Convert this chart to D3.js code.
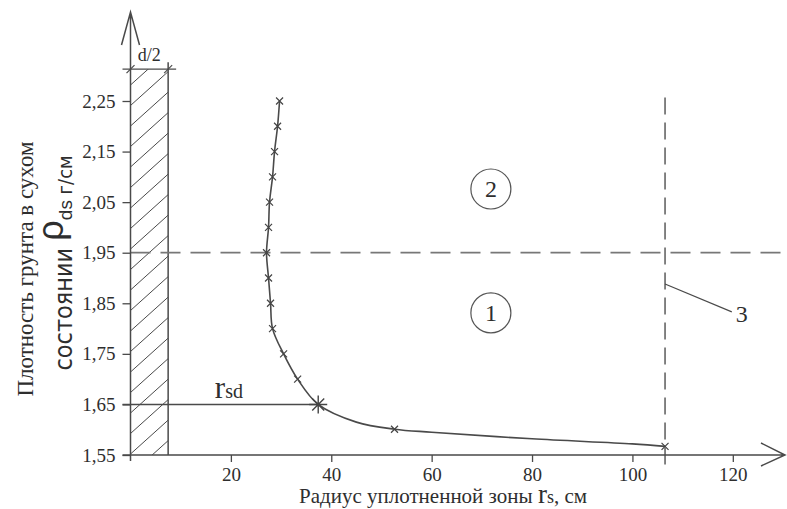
<!DOCTYPE html>
<html>
<head>
<meta charset="utf-8">
<script src="https://cdn.jsdelivr.net/npm/d3@7"></script>
<style>
  body { margin: 0; background: #fff; }
  svg { display: block; }
  .serif { font-family: "Liberation Serif", "Times New Roman", serif; fill: #2e2e2e; }
  .sans { font-family: "Liberation Sans Narrow", "DejaVu Sans Condensed", "Liberation Sans", sans-serif; fill: #2e2e2e; }
</style>
</head>
<body>
<div class="js-d3"></div>
<script>
// density / radius curve
const curveRadius = [29.7, 29.3, 28.7, 28.3, 27.7, 27.5, 27.1, 27.5, 27.9, 28.3, 30.5, 33.3, 37.4, 45, 52.6, 60, 80, 100, 106.5];
const curveDensity = [2.25, 2.2, 2.15, 2.1, 2.05, 2.0, 1.95, 1.9, 1.85, 1.8, 1.75, 1.7, 1.65, 1.615, 1.601, 1.595, 1.582, 1.572, 1.567];
// which points carry a small cross
const markerIdx = [0, 1, 2, 3, 4, 5, 6, 7, 8, 9, 10, 11, 14, 18];
const rsdIdx = 12;

const yTicks = [1.55, 1.65, 1.75, 1.85, 1.95, 2.05, 2.15, 2.25];
const xTicks = [20, 40, 60, 80, 100, 120];

const halfD = 7.5;          // d/2, cm
const densityLimit = 1.95;  // horizontal dashed line
const radiusLimit = 106.5;  // vertical dashed line

const zones = [
  { label: "2", r: 71.8, rho: 2.076 },
  { label: "1", r: 71.8, rho: 1.831 }
];

const width = 787;
const height = 509;

const x = d3.scaleLinear().domain([0, 130]).range([130.5, 783]);
const y = d3.scaleLinear().domain([1.55, 2.25]).range([455, 101]);

const svg = d3.select(".js-d3")
  .append("svg")
  .attr("width", width)
  .attr("height", height);

const lineColor = "#4a4a4a";
const dashColor = "#777";

// hatched strip 0..d/2
const hatchTop = y(2.313);
svg.append("clipPath").attr("id", "hclip")
  .append("rect")
  .attr("x", x(0)).attr("y", hatchTop)
  .attr("width", x(halfD) - x(0)).attr("height", y(1.55) - hatchTop);

const hatch = svg.append("g").attr("clip-path", "url(#hclip)");
const hw = x(halfD) - x(0);
for (let yy = y(1.55) + 40; yy > hatchTop - 10; yy -= 20.5) {
  hatch.append("line")
    .attr("x1", x(0)).attr("y1", yy)
    .attr("x2", x(0) + hw).attr("y2", yy - hw * 0.9)
    .attr("stroke", lineColor).attr("stroke-width", 1);
}
svg.append("line")
  .attr("x1", x(halfD)).attr("x2", x(halfD))
  .attr("y1", hatchTop - 7).attr("y2", y(1.55))
  .attr("stroke", lineColor).attr("stroke-width", 1.5);

// d/2 dimension
svg.append("line")
  .attr("x1", x(0) - 8).attr("x2", x(halfD) + 8)
  .attr("y1", hatchTop).attr("y2", hatchTop)
  .attr("stroke", lineColor).attr("stroke-width", 1.2);
[0, halfD].forEach((v) => {
  svg.append("line")
    .attr("x1", x(v) - 4).attr("y1", hatchTop + 4)
    .attr("x2", x(v) + 4).attr("y2", hatchTop - 4)
    .attr("stroke", lineColor).attr("stroke-width", 1.2);
});
svg.append("text").attr("class", "serif")
  .attr("x", (x(0) + x(halfD)) / 2).attr("y", hatchTop - 8)
  .attr("text-anchor", "middle").attr("font-size", 18)
  .text("d/2");

// dashed limit lines
svg.append("line")
  .attr("x1", x(0)).attr("x2", width)
  .attr("y1", y(densityLimit)).attr("y2", y(densityLimit))
  .attr("stroke", dashColor).attr("stroke-width", 1.8)
  .attr("stroke-dasharray", "20,10");
svg.append("line")
  .attr("x1", x(radiusLimit)).attr("x2", x(radiusLimit))
  .attr("y1", y(2.257)).attr("y2", y(1.55) + 12)
  .attr("stroke", dashColor).attr("stroke-width", 1.8)
  .attr("stroke-dasharray", "17,8");

// axes
const yAxis = d3.axisLeft(y).tickValues(yTicks).tickSize(8).tickPadding(7)
  .tickFormat((d) => d3.format(".2f")(d).replace(".", ","));
const gy = svg.append("g").attr("transform", `translate(${x(0)},0)`).call(yAxis);
const xAxis = d3.axisBottom(x).tickValues(xTicks).tickSize(7).tickPadding(6)
  .tickFormat(d3.format("d"));
const gx = svg.append("g").attr("transform", `translate(0,${y(1.55)})`).call(xAxis);
[gx, gy].forEach((g) => {
  g.attr("font-family", null);
  g.select(".domain").remove();
  g.selectAll(".tick line").attr("stroke", lineColor).attr("stroke-width", 1.3);
  g.selectAll(".tick text").attr("class", "serif").attr("font-size", 19)
    .attr("fill", "#2e2e2e");
});

// axis lines with open arrows
svg.append("path")
  .attr("d", `M${x(0)},${y(1.55) + 6}V12M${x(0) - 9},45L${x(0)},12L${x(0) + 9},45`)
  .attr("fill", "none").attr("stroke", lineColor).attr("stroke-width", 1.5);
svg.append("path")
  .attr("d", `M${x(0) - 8},${y(1.55)}H785M761,443L785,${y(1.55)}L761,466`)
  .attr("fill", "none").attr("stroke", lineColor).attr("stroke-width", 1.5);

// r_sd guide
svg.append("line")
  .attr("x1", x(0) - 8).attr("x2", x(curveRadius[rsdIdx]))
  .attr("y1", y(curveDensity[rsdIdx])).attr("y2", y(curveDensity[rsdIdx]))
  .attr("stroke", lineColor).attr("stroke-width", 1.5);
const rsd = svg.append("text").attr("class", "serif")
  .attr("x", x(16.8)).attr("y", y(1.663));
rsd.append("tspan").attr("font-size", 31).text("r");
rsd.append("tspan").attr("font-size", 20).text("sd");

// curve
const pts = curveRadius.map((r, i) => [r, curveDensity[i]]);
svg.append("path")
  .datum(pts)
  .attr("d", d3.line().x((d) => x(d[0])).y((d) => y(d[1])).curve(d3.curveCatmullRom.alpha(0.5)))
  .attr("fill", "none").attr("stroke", lineColor).attr("stroke-width", 1.6);

svg.selectAll(".mark")
  .data(markerIdx.map((i) => pts[i]))
  .enter()
  .append("path")
  .attr("class", "mark")
  .attr("transform", (d) => `translate(${x(d[0])},${y(d[1])})`)
  .attr("d", "M-3.5,-3.5L3.5,3.5M-3.5,3.5L3.5,-3.5")
  .attr("stroke", "#444").attr("stroke-width", 1.2);

svg.append("path")
  .attr("transform", `translate(${x(pts[rsdIdx][0])},${y(pts[rsdIdx][1])})`)
  .attr("d", "M-9,0H9M0,-9V9M-6,-6L6,6M-6,6L6,-6")
  .attr("stroke", "#444").attr("stroke-width", 1.4);

// zone numbers
const zg = svg.selectAll(".zone").data(zones).enter().append("g")
  .attr("transform", (d) => `translate(${x(d.r)},${y(d.rho)})`);
zg.append("circle").attr("r", 20).attr("fill", "none")
  .attr("stroke", "#555").attr("stroke-width", 1.2);
zg.append("text").attr("class", "serif").attr("font-size", 24)
  .attr("text-anchor", "middle").attr("dy", 8)
  .text((d) => d.label);

// leader "3"
svg.append("line")
  .attr("x1", x(radiusLimit)).attr("y1", y(1.888))
  .attr("x2", x(119.8)).attr("y2", y(1.833))
  .attr("stroke", lineColor).attr("stroke-width", 1.2);
svg.append("text").attr("class", "serif").attr("font-size", 24)
  .attr("x", x(120.6)).attr("y", y(1.813))
  .text("3");

// axis titles
const xt = svg.append("text").attr("class", "serif")
  .attr("x", 443).attr("y", 503).attr("text-anchor", "middle").attr("font-size", 21);
xt.append("tspan").text("Радиус уплотненной зоны ");
xt.append("tspan").attr("font-size", 27).text("r");
xt.append("tspan").attr("font-size", 18).text("s");
xt.append("tspan").text(", см");

svg.append("text").attr("class", "serif")
  .attr("transform", "translate(33,269) rotate(-90)")
  .attr("text-anchor", "middle").attr("font-size", 23)
  .text("Плотность грунта в сухом");

const yt = svg.append("text").attr("class", "sans")
  .attr("transform", "translate(72,263) rotate(-90)")
  .attr("text-anchor", "middle").attr("font-size", 25);
yt.append("tspan").text("состоянии ");
yt.append("tspan").attr("font-family", "Liberation Sans, sans-serif")
  .attr("font-size", 36).attr("dy", -9).text("ρ");
yt.append("tspan").attr("font-family", "Liberation Sans, sans-serif")
  .attr("font-size", 19).attr("dy", 9).text("ds");
yt.append("tspan").attr("font-size", 20).text(" г/см");
</script>
</body>
</html>
